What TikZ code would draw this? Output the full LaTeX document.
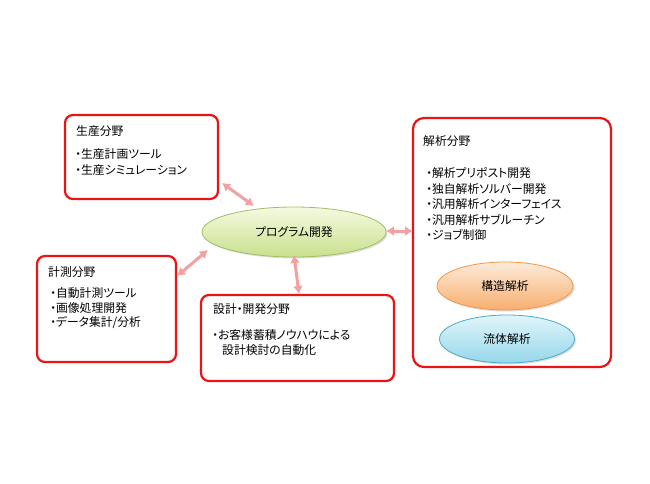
\documentclass[tikz,border=0pt]{standalone}
\usepackage{fontspec}
\setmainfont{Noto Sans CJK JP}[RawFeature=+palt]
\usetikzlibrary{shapes.geometric,arrows.meta,shadows}
\definecolor{boxred}{RGB}{235,20,20}
\definecolor{arrpink}{RGB}{244,160,160}
\definecolor{grtop}{RGB}{245,250,225}
\definecolor{grbot}{RGB}{200,225,140}
\definecolor{grline}{RGB}{160,190,100}
\definecolor{ortop}{RGB}{253,235,218}
\definecolor{orbot}{RGB}{248,175,110}
\definecolor{orline}{RGB}{245,150,70}
\definecolor{bltop}{RGB}{225,245,250}
\definecolor{blbot}{RGB}{150,215,235}
\definecolor{blline}{RGB}{75,172,198}
\tikzset{
  areabox/.style={draw=boxred, line width=2.2pt, rounded corners=8pt, fill=white},
  lbl/.style={anchor=west, inner sep=0pt, font=\fontsize{11.8}{14}\selectfont},
  ell/.style={ellipse, inner sep=0pt, line width=0.8pt, font=\fontsize{11.8}{14}\selectfont,
     drop shadow={shadow xshift=1.5pt, shadow yshift=-1.5pt, opacity=0.25}},
  link/.style={arrpink, line width=3pt, {Latex[length=8pt,width=10pt]}-{Latex[length=8pt,width=10pt]}}
}
\begin{document}
\begin{tikzpicture}[x=1pt,y=-1pt]
\useasboundingbox (0,0) rectangle (650,484);
% boxes
\draw[areabox] (65,115) rectangle (218,199);
\node[inner sep=0pt] (box1) at (141.5,157) {};
\draw[areabox] (37,256) rectangle (176,362);
\node[inner sep=0pt] (box2) at (106.5,309) {};
\draw[areabox] (201,295) rectangle (394,381);
\node[inner sep=0pt] (box3) at (297.5,338) {};
\draw[areabox, rounded corners=11pt] (413,118) rectangle (611,367);
\node[inner sep=0pt] (box4) at (512,242) {};
% ellipses
\node[ell, draw=grline, top color=grtop, bottom color=grbot, minimum width=184pt, minimum height=50pt] (prog) at (294,232) {プログラム開発};
\node[ell, draw=orline, top color=ortop, bottom color=orbot, minimum width=136pt, minimum height=48pt] (kozo) at (505,286) {構造解析};
\node[ell, draw=blline, top color=bltop, bottom color=blbot, minimum width=135pt, minimum height=48pt] (ryutai) at (507,339) {流体解析};
% texts
\node[lbl] (t1) at (76,131) {生産分野};
\node[lbl] (t1a) at (75,154) {・生産計画ツール};
\node[lbl] (t1b) at (75,170) {・生産シミュレーション};
\node[lbl] (t2) at (48,272) {計測分野};
\node[lbl] (t2a) at (50,293) {・自動計測ツール};
\node[lbl] (t2b) at (50,308) {・画像処理開発};
\node[lbl] (t2c) at (50,323) {・データ集計/分析};
\node[lbl] (t3) at (213,309) {設計・開発分野};
\node[lbl] (t3a) at (212,335) {・お客様蓄積ノウハウによる};
\node[lbl] (t3b) at (222,350) {設計検討の自動化};
\node[lbl] (t4) at (423,141) {解析分野};
\node[lbl] (t4a) at (426,173) {・解析プリポスト開発};
\node[lbl] (t4b) at (426,189) {・独自解析ソルバー開発};
\node[lbl] (t4c) at (426,204) {・汎用解析インターフェイス};
\node[lbl] (t4d) at (426,220) {・汎用解析サブルーチン};
\node[lbl] (t4e) at (426,235) {・ジョブ制御};
% connector ends
\coordinate (a1s) at (222,183); \coordinate (a1e) at (254,206);
\coordinate (a2s) at (177,276); \coordinate (a2e) at (208,250);
\coordinate (a3s) at (294,255); \coordinate (a3e) at (299,294);
\coordinate (a4s) at (386,231); \coordinate (a4e) at (413,231);
\draw[link] (a1s) -- (a1e);
\draw[link] (a2s) -- (a2e);
\draw[link] (a3s) -- (a3e);
\draw[link] (a4s) -- (a4e);
\end{tikzpicture}
\end{document}
